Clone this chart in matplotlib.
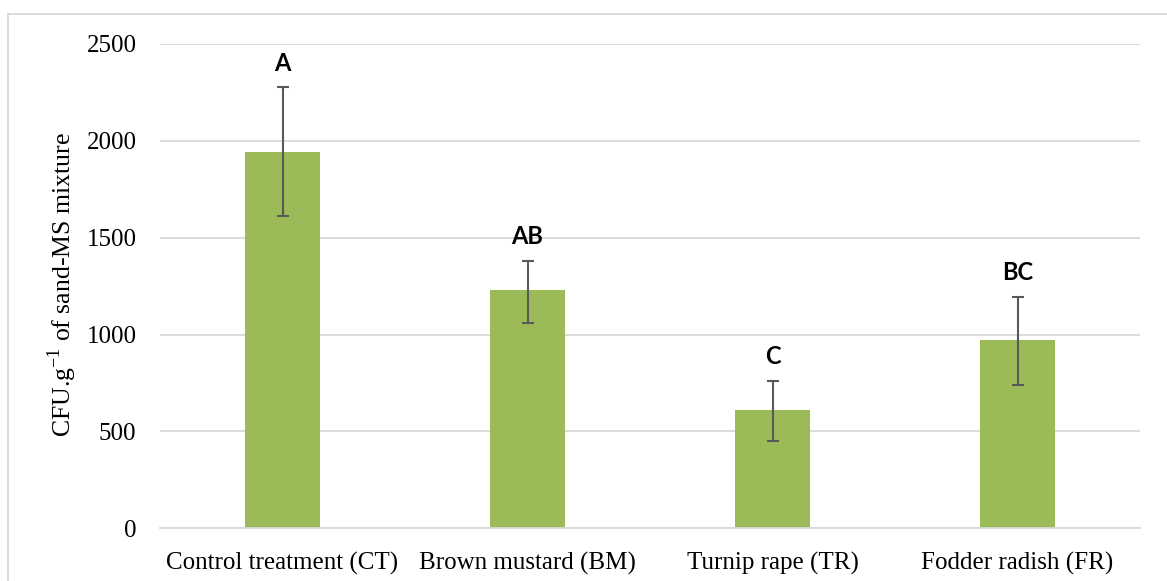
import matplotlib
matplotlib.use("Agg")
import matplotlib.pyplot as plt
from matplotlib.patches import Rectangle

categories = ["Control treatment (CT)", "Brown mustard (BM)", "Turnip rape (TR)", "Fodder radish (FR)"]
values = [1940, 1228, 610, 970]
err_low = [1610, 1062, 452, 740]
err_high = [2277, 1382, 762, 1196]
letters = ["A", "AB", "C", "BC"]
yticks = [0, 500, 1000, 1500, 2000, 2500]

W, H = 1167, 581
FS = 18
fig = plt.figure(figsize=(W / 100, H / 100), dpi=100)
ax = fig.add_axes([160 / W, 1 - 528.3 / H, 980 / W, (528.3 - 44) / H])

x = list(range(len(categories)))
ax.bar(x, values, width=0.31, color="#9BBB59", zorder=2)
yerr = [[v - l for v, l in zip(values, err_low)], [h - v for v, h in zip(values, err_high)]]
ax.errorbar(x, values, yerr=yerr, fmt="none", ecolor="#595959", elinewidth=1.5,
            capsize=4.5, capthick=1.5, zorder=3)
for xi, hi, lab in zip(x, err_high, letters):
    ax.text(xi, hi + 85, lab, ha="center", va="baseline", fontsize=17,
            fontweight="bold", family="Lato", color="black")

ax.set_xlim(-0.5, len(categories) - 0.5)
ax.set_ylim(0, 2500)
ax.set_yticks(yticks)
ax.set_xticks(x)
ax.set_xticklabels(categories, family="Liberation Serif", fontsize=FS)
ax.set_yticklabels([str(t) for t in yticks], family="Liberation Serif", fontsize=FS)
ax.grid(axis="y", color="#D9D9D9", linewidth=1.3, zorder=0)
ax.set_axisbelow(True)
for s in ["top", "right", "left"]:
    ax.spines[s].set_visible(False)
ax.spines["bottom"].set_color("#D9D9D9")
ax.spines["bottom"].set_linewidth(1.3)
ax.tick_params(axis="both", length=0, colors="black")
ax.tick_params(axis="y", pad=17)
ax.tick_params(axis="x", pad=17)

fig.text(62 / W, 1 - 285 / H, "CFU.g$^{\\mathregular{-1}}$ of sand-MS mixture", rotation=90,
         ha="center", va="center", family="Liberation Serif", fontsize=FS + 0.5)

fig.patches.append(Rectangle((8 / W, -0.05), (W - 8) / W + 0.05, 1 - 14 / H + 0.05,
                             transform=fig.transFigure, fill=False,
                             edgecolor="#D9D9D9", linewidth=1.3))

fig.savefig("out.png", dpi=100)
